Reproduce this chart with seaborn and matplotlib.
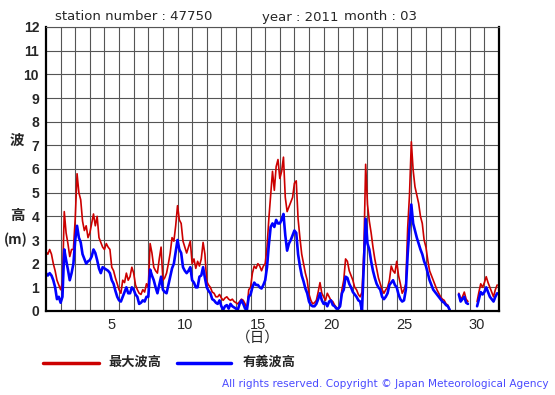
import numpy as np
import pandas as pd
import matplotlib
matplotlib.use('Agg')
import matplotlib.pyplot as plt
import seaborn as sns

nan = np.nan

# ============================================================
# Data: 3-hourly wave heights (m), March 2011, station 47750
# one row per day, 8 values (00h, 03h, ... 21h)
# ============================================================
MAX_WAVE = [
    2.5, 2.4, 2.6, 2.4, 2.0, 1.7, 1.3, 1.1,        # 1
    0.9, 1.2, 4.2, 3.3, 2.85, 2.3, 2.6, 2.6,       # 2
    3.9, 5.8, 5.0, 4.7, 3.8, 3.4, 3.6, 3.1,        # 3
    3.3, 3.7, 4.1, 3.6, 4.0, 3.1, 2.9, 2.7,        # 4
    2.6, 2.85, 2.7, 2.6, 1.85, 1.7, 1.4, 1.15,     # 5
    0.9, 0.75, 1.3, 1.2, 1.6, 1.3, 1.45, 1.85,     # 6
    1.6, 1.1, 0.9, 0.75, 0.7, 0.9, 0.8, 1.15,      # 7
    1.0, 2.85, 2.45, 1.85, 1.7, 1.6, 2.2, 2.7,     # 8
    1.3, 1.4, 1.6, 2.0, 2.45, 3.1, 2.95, 3.6,      # 9
    4.45, 3.85, 3.7, 2.95, 2.7, 2.45, 2.7, 2.95,   # 10
    2.0, 2.2, 1.8, 2.1, 1.9, 2.2, 2.9, 2.4,        # 11
    1.25, 1.1, 1.0, 0.8, 0.75, 0.6, 0.6, 0.7,      # 12
    0.55, 0.45, 0.55, 0.6, 0.5, 0.45, 0.5, 0.4,    # 13
    0.35, 0.3, 0.4, 0.5, 0.45, 0.3, 0.1, 0.9,      # 14
    1.0, 1.6, 1.9, 1.8, 2.0, 1.9, 1.7, 1.9,        # 15
    2.0, 2.7, 3.9, 4.9, 5.9, 5.1, 6.1, 6.4,        # 16
    5.6, 5.9, 6.5, 4.8, 4.2, 4.4, 4.6, 4.8,        # 17
    5.4, 5.5, 3.9, 3.1, 2.4, 2.0, 1.6, 1.3,        # 18
    0.7, 0.45, 0.3, 0.35, 0.45, 0.8, 1.2, 0.75,    # 19
    0.6, 0.45, 0.75, 0.6, 0.45, 0.4, 0.25, 0.15,   # 20
    0.1, 0.2, 0.9, 1.3, 2.2, 2.1, 1.7, 1.5,        # 21
    1.3, 1.0, 0.9, 0.7, 0.6, 0.8, 2.5, 6.2,        # 22
    4.5, 3.8, 3.3, 2.7, 2.2, 1.8, 1.4, 1.15,       # 23
    0.9, 0.75, 0.9, 1.0, 1.3, 1.9, 1.7, 1.6,       # 24
    2.1, 1.5, 1.15, 0.75, 0.9, 1.15, 3.5, 4.9,     # 25
    7.15, 5.95, 5.25, 4.9, 4.55, 4.0, 3.7, 3.0,    # 26
    2.7, 2.15, 1.7, 1.5, 1.3, 1.1, 0.9, 0.75,      # 27
    0.6, 0.5, 0.45, 0.3, 0.25, 0.05, nan, nan,     # 28
    nan, nan, 0.75, 0.5, 0.6, 0.8, 0.5, 0.4,       # 29
    nan, nan, nan, nan, 0.4, 0.8, 1.15, 1.0,       # 30
    1.2, 1.45, 1.2, 1.0, 0.8, 0.6, 0.9, 1.1,       # 31
]

SIG_WAVE = [
    1.6, 1.5, 1.6, 1.5, 1.3, 1.0, 0.5, 0.6,        # 1
    0.35, 0.6, 2.6, 2.15, 1.75, 1.3, 1.6, 2.0,     # 2
    3.0, 3.6, 3.1, 2.9, 2.4, 2.2, 2.0, 2.1,        # 3
    2.15, 2.3, 2.6, 2.45, 2.15, 1.8, 1.6, 1.85,    # 4
    1.8, 1.75, 1.7, 1.6, 1.3, 1.15, 0.85, 0.6,     # 5
    0.45, 0.4, 0.6, 0.8, 1.0, 0.75, 0.75, 1.0,     # 6
    0.9, 0.7, 0.6, 0.3, 0.35, 0.45, 0.4, 0.6,      # 7
    0.6, 1.75, 1.5, 1.3, 1.0, 0.75, 1.1, 1.45,     # 8
    0.9, 0.8, 0.75, 1.1, 1.45, 1.8, 2.0, 2.5,      # 9
    3.0, 2.6, 2.45, 1.85, 1.7, 1.6, 1.7, 1.85,     # 10
    1.3, 1.2, 1.0, 1.0, 1.45, 1.5, 1.85, 1.4,      # 11
    1.0, 0.85, 0.75, 0.5, 0.45, 0.35, 0.3, 0.45,   # 12
    0.2, 0.05, 0.2, 0.25, 0.1, 0.3, 0.2, 0.15,     # 13
    0.1, 0.05, 0.3, 0.45, 0.3, 0.1, 0.05, 0.6,     # 14
    0.7, 1.0, 1.2, 1.1, 1.1, 1.0, 0.95, 1.1,       # 15
    1.3, 1.85, 2.8, 3.55, 3.7, 3.55, 3.85, 3.7,    # 16
    3.7, 3.85, 4.1, 3.2, 2.55, 2.85, 3.0, 3.2,     # 17
    3.4, 3.3, 2.4, 1.9, 1.5, 1.25, 0.95, 0.75,     # 18
    0.4, 0.25, 0.2, 0.2, 0.3, 0.5, 0.75, 0.45,     # 19
    0.3, 0.35, 0.2, 0.4, 0.45, 0.25, 0.2, 0.1,     # 20
    0.1, 0.2, 0.75, 0.9, 1.45, 1.4, 1.15, 1.0,     # 21
    0.8, 0.7, 0.6, 0.45, 0.4, 0.0, 2.0, 3.9,       # 22
    2.85, 2.6, 2.1, 1.7, 1.4, 1.15, 1.0, 0.9,      # 23
    0.6, 0.5, 0.6, 0.75, 1.1, 1.2, 1.3, 1.1,       # 24
    1.0, 0.7, 0.5, 0.4, 0.45, 0.9, 2.4, 3.55,      # 25
    4.5, 3.7, 3.4, 3.1, 2.85, 2.6, 2.4, 2.1,       # 26
    1.9, 1.6, 1.3, 1.1, 0.9, 0.8, 0.7, 0.6,        # 27
    0.5, 0.4, 0.35, 0.25, 0.2, 0.05, nan, nan,     # 28
    nan, nan, 0.7, 0.4, 0.5, 0.6, 0.35, 0.3,       # 29
    nan, nan, nan, nan, 0.2, 0.5, 0.8, 0.7,        # 30
    0.8, 1.0, 0.8, 0.6, 0.5, 0.4, 0.6, 0.75,       # 31
]

STEP_HOURS = 3
X_TICKS = [5, 10, 15, 20, 25, 30]
Y_TICKS = list(range(0, 13))
SERIES_NAMES = ['最大波高', '有義波高']
COLORS = {'最大波高': '#cc0000', '有義波高': '#0000ff'}


def to_frame(values, name):
    # x = 0.5 at day 1 00h, so day N is centred on N
    hours = np.arange(len(values)) * STEP_HOURS
    df = pd.DataFrame({'x': 0.5 + hours / 24.0, 'height': values})
    df['seg'] = df['height'].isna().cumsum()  # break the line at gaps
    df = df.dropna()
    df['series'] = name
    return df


frames = [to_frame(MAX_WAVE, SERIES_NAMES[0]), to_frame(SIG_WAVE, SERIES_NAMES[1])]

sns.set_style('white')
plt.rcParams['font.family'] = ['Liberation Sans', 'Noto Sans CJK JP', 'DejaVu Sans']

W, H = 555, 395
fig = plt.figure(figsize=(W / 100, H / 100), dpi=100)
ax = fig.add_axes([46 / W, 1 - 311 / H, 453 / W, 284 / H])
ax.set_axisbelow(True)

for df, lw in zip(frames, [1.2, 1.9]):
    name = df['series'].iloc[0]
    sns.lineplot(data=df, x='x', y='height', units='seg', estimator=None,
                 color=COLORS[name], linewidth=lw, ax=ax, legend=False)

ax.set_xlim(0.5, 31.5)
ax.set_ylim(0, 12)
ax.set_xlabel('')
ax.set_ylabel('')

ax.set_xticks(X_TICKS)
ax.set_xticklabels([str(t) for t in X_TICKS], fontsize=10.5)
ax.set_xticks(np.arange(1.5, 31.5, 1), minor=True)
ax.tick_params(axis='x', which='both', length=0, pad=5)
ax.set_yticks(Y_TICKS)
ax.set_yticklabels([str(t) for t in Y_TICKS], fontsize=10, fontweight='bold')
ax.tick_params(axis='y', length=3, width=1, pad=2)

ax.grid(which='minor', axis='x', color='#555555', linewidth=0.8)
ax.grid(which='major', axis='y', color='#555555', linewidth=0.8)

for side in ['left', 'bottom', 'right']:
    ax.spines[side].set_linewidth(1.6)
    ax.spines[side].set_color('black')
ax.spines['top'].set_linewidth(0.8)
ax.spines['top'].set_color('#555555')


def px(x, y):
    return x / W, 1 - y / H


# header
head = dict(fontsize=9.5, va='center', family='DejaVu Sans')
fig.text(*px(55, 17), 'station number : 47750', **head)
fig.text(*px(262, 17), 'year : 2011', **head)
fig.text(*px(344, 17), 'month : 03', **head)

# axis titles
fig.text(*px(17, 141), '波', fontsize=10.5, fontweight='bold', ha='center', va='center')
fig.text(*px(17, 216), '高', fontsize=10.5, fontweight='bold', ha='center', va='center')
fig.text(*px(16, 240), '(m)', fontsize=10, fontweight='bold', ha='center', va='center',
         family='Noto Sans CJK JP')
fig.text(*px(258, 338), '（日）', fontsize=10.5, ha='center', va='center')

# legend drawn below the axes
leg_y = 363
for (x0, x1, tx), name in zip([(43, 99, 108), (177, 231, 243)], SERIES_NAMES):
    fig.add_artist(plt.Line2D([x0 / W, x1 / W], [1 - leg_y / H] * 2,
                              color=COLORS[name], linewidth=2.5))
    fig.text(*px(tx, leg_y), name, fontsize=9.5, fontweight='bold', va='center')

fig.text(*px(549, 384), 'All rights reserved. Copyright © Japan Meteorological Agency',
         fontsize=7.6, color='#4a4aff', ha='right', va='center', family='DejaVu Sans')

fig.savefig('out.png', dpi=100)
